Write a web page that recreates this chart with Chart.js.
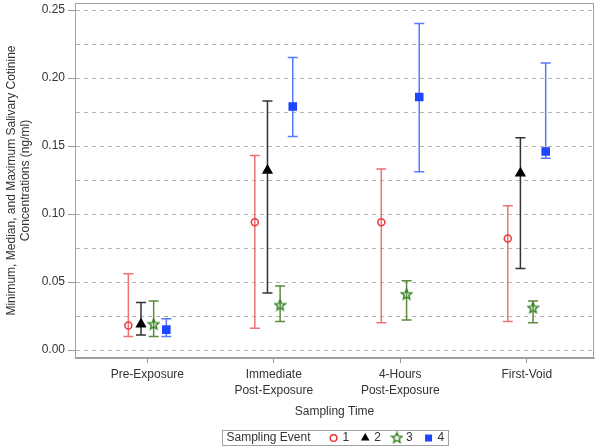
<!DOCTYPE html>
<html><head><meta charset="utf-8">
<script src="https://cdn.jsdelivr.net/npm/chart.js@4/dist/chart.umd.min.js"></script>
<style>html,body{margin:0;padding:0;background:#fff;}</style>
</head><body>
<canvas id="c" width="600" height="448"></canvas>
<script>
// ---- data ----
const categories = ['Pre-Exposure', ['Immediate', 'Post-Exposure'], ['4-Hours', 'Post-Exposure'], 'First-Void'];
const eventLabels = ['1', '2', '3', '4'];
const legendTitle = 'Sampling Event';
const xTitle = 'Sampling Time';
const yTitle = ['Minimum, Median, and Maximum Salivary Cotinine', 'Concentrations (ng/ml)'];

const median1 = [0.018, 0.094, 0.094, 0.082];
const min1    = [0.010, 0.016, 0.020, 0.021];
const max1    = [0.056, 0.143, 0.133, 0.106];

const median2 = [0.019, 0.132, null, 0.130];
const min2    = [0.011, 0.042, null, 0.060];
const max2    = [0.035, 0.183, null, 0.156];

const median3 = [0.019, 0.033, 0.041, 0.031];
const min3    = [0.010, 0.021, 0.022, 0.020];
const max3    = [0.036, 0.047, 0.051, 0.036];

const median4 = [0.015, 0.179, 0.186, 0.146];
const min4    = [0.010, 0.157, 0.131, 0.141];
const max4    = [0.023, 0.215, 0.240, 0.211];

const yTicks = [0, 0.025, 0.05, 0.075, 0.10, 0.125, 0.15, 0.175, 0.20, 0.225, 0.25];
const yLabelTicks = [0, 0.05, 0.10, 0.15, 0.20, 0.25];

// ---- styles ----
const medians = [median1, median2, median3, median4];
const mins = [min1, min2, min3, min4];
const maxs = [max1, max2, max3, max4];
const dodge = [-0.15, -0.05, 0.05, 0.15];
const markerColors = ['#E83A3A', '#000000', '#2E7D1E', '#1E46FF'];
const whiskerColors = ['#F07272', '#333333', '#5C8C3C', '#5A78FF'];
const FONT = '"Liberation Sans", Arial, sans-serif';
const TEXT = '#333333';
const FRAME = '#A0A0A0';

function makeStar(color) {
  const c = document.createElement('canvas');
  c.width = 13; c.height = 13;
  const g = c.getContext('2d');
  g.strokeStyle = color; g.lineWidth = 1.4; g.lineJoin = 'miter';
  g.beginPath();
  for (let k = 0; k < 10; k++) {
    const r = k % 2 === 0 ? 5.4 : 2.4;
    const a = -Math.PI / 2 + k * Math.PI / 5;
    const px = 6.5 + r * Math.cos(a), py = 6.8 + r * Math.sin(a);
    if (k === 0) g.moveTo(px, py); else g.lineTo(px, py);
  }
  g.closePath(); g.stroke();
  return c;
}
const starImg = makeStar(markerColors[2]);
const pointStyles = ['circle', 'triangle', starImg, 'rect'];
const pointRadii = [3.5, 5, 6, 5];
const pointFills = ['rgba(0,0,0,0)', markerColors[1], 'rgba(0,0,0,0)', markerColors[3]];

const datasets = medians.map((arr, d) => ({
  label: eventLabels[d],
  data: arr.map((v, i) => (v === null ? null : { x: i + 1 + dodge[d], y: v })).filter(p => p !== null),
  pointStyle: pointStyles[d],
  pointRadius: pointRadii[d],
  pointHoverRadius: pointRadii[d],
  borderColor: markerColors[d],
  backgroundColor: pointFills[d],
  pointBorderColor: markerColors[d],
  pointBackgroundColor: pointFills[d],
  pointBorderWidth: 1.5,
  showLine: false
}));

const isLabeled = v => yLabelTicks.some(t => Math.abs(t - v) < 1e-9);

const whiskerPlugin = {
  id: 'whiskers',
  beforeDatasetsDraw(chart) {
    const { ctx, scales: { x, y } } = chart;
    ctx.save();
    ctx.lineWidth = 1.5;
    mins.forEach((mn, d) => {
      ctx.strokeStyle = whiskerColors[d];
      mn.forEach((lo, i) => {
        const hi = maxs[d][i];
        if (lo === null || hi === null) return;
        const px = x.getPixelForValue(i + 1 + dodge[d]);
        const y1 = y.getPixelForValue(lo), y2 = y.getPixelForValue(hi);
        ctx.beginPath();
        ctx.moveTo(px, y1); ctx.lineTo(px, y2);
        ctx.moveTo(px - 5, y1); ctx.lineTo(px + 5, y1);
        ctx.moveTo(px - 5, y2); ctx.lineTo(px + 5, y2);
        ctx.stroke();
      });
    });
    ctx.restore();
  },
  afterDraw(chart) {
    const { ctx, chartArea: a } = chart;
    ctx.save();
    // frame
    ctx.strokeStyle = FRAME; ctx.lineWidth = 1;
    ctx.strokeRect(Math.round(a.left) + 0.5, Math.round(a.top) + 0.5, Math.round(a.right - a.left) - 1, Math.round(a.bottom - a.top) - 1);
    // legend
    ctx.font = '12px ' + FONT;
    ctx.textBaseline = 'middle';
    const titleW = ctx.measureText(legendTitle).width;
    let w = 4 + titleW + 18;
    eventLabels.forEach(l => { w += 14 + ctx.measureText(l).width + 11; });
    w = w - 11 + 4;
    const cx = (a.left + a.right) / 2;
    const bx = Math.round(cx - w / 2) + 0.5, by = 430.5, bh = 15;
    ctx.strokeStyle = FRAME;
    ctx.strokeRect(bx, by, Math.round(w), bh);
    const cy = by + bh / 2;
    ctx.fillStyle = TEXT;
    let xx = bx + 4;
    ctx.fillText(legendTitle, xx, cy);
    xx += titleW + 18;
    eventLabels.forEach((l, d) => {
      const mx = xx + 5;
      ctx.save();
      ctx.strokeStyle = markerColors[d]; ctx.fillStyle = markerColors[d]; ctx.lineWidth = 1.5;
      if (d === 0) { ctx.beginPath(); ctx.arc(mx, cy, 3.3, 0, Math.PI * 2); ctx.stroke(); }
      else if (d === 1) { ctx.beginPath(); ctx.moveTo(mx, cy - 5); ctx.lineTo(mx + 4.3, cy + 2.5); ctx.lineTo(mx - 4.3, cy + 2.5); ctx.closePath(); ctx.fill(); }
      else if (d === 2) { ctx.drawImage(starImg, mx - 6.5, cy - 6.8); }
      else { ctx.fillRect(mx - 3.5, cy - 3.5, 7, 7); }
      ctx.restore();
      ctx.fillStyle = TEXT;
      ctx.fillText(l, xx + 14, cy);
      xx += 14 + ctx.measureText(l).width + 11;
    });
    ctx.restore();
  }
};

new Chart(document.getElementById('c'), {
  type: 'scatter',
  data: { datasets },
  options: {
    responsive: false,
    animation: false,
    devicePixelRatio: 1,
    layout: { autoPadding: false, padding: { top: 3, right: 6, left: 0, bottom: 29 } },
    plugins: { legend: { display: false }, tooltip: { enabled: false } },
    scales: {
      x: {
        type: 'linear',
        min: 0.428, max: 4.532,
        afterBuildTicks: s => { s.ticks = categories.map((c, i) => ({ value: i + 1 })); },
        afterFit: s => { s.height = 61; s.paddingLeft = 0; s.paddingRight = 0; },
        ticks: {
          autoSkip: false, maxRotation: 0, padding: 4,
          color: TEXT, font: { family: FONT, size: 12, lineHeight: 1.3 },
          callback: v => categories[Math.round(v) - 1]
        },
        grid: { drawOnChartArea: false, drawTicks: true, tickLength: 5, tickColor: '#999', color: '#999' },
        border: { display: true, color: FRAME },
        title: { display: true, text: xTitle, color: TEXT, font: { family: FONT, size: 12, lineHeight: 1.2 }, padding: 0 }
      },
      y: {
        type: 'linear',
        min: -0.00588, max: 0.25515,
        afterBuildTicks: s => { s.ticks = yTicks.map(v => ({ value: v })); },
        afterFit: s => { s.width = 75; s.paddingTop = 0; s.paddingBottom = 0; },
        ticks: {
          autoSkip: false, padding: 3, color: TEXT, font: { family: FONT, size: 12 },
          callback: v => (isLabeled(v) ? v.toFixed(2) : '')
        },
        grid: {
          color: '#B4B4B4', lineWidth: 1, tickLength: 7,
          tickColor: c => (c.tick && isLabeled(c.tick.value) ? '#999' : 'rgba(0,0,0,0)')
        },
        border: { display: true, color: FRAME, dash: [4, 4] },
        title: { display: true, text: yTitle, color: TEXT, font: { family: FONT, size: 12, lineHeight: 14 / 12 }, padding: { top: 5, bottom: 0 } }
      }
    }
  },
  plugins: [whiskerPlugin]
});
</script>
</body></html>
